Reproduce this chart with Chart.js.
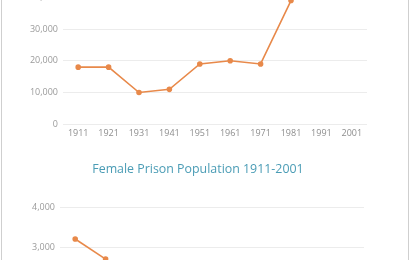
<!DOCTYPE html>
<html>
<head>
<meta charset="utf-8">
<script src="https://cdn.jsdelivr.net/npm/chart.js@4.4.0/dist/chart.umd.min.js"></script>
<style>
  html, body { margin: 0; padding: 0; background: #fff; }
  body { width: 410px; height: 260px; overflow: hidden; position: relative; }
  .frame { position: absolute; left: 1px; top: 0; width: 406px; height: 260px;
           border-left: 1px solid #cfcfcf; border-right: 1px solid #cfcfcf; }
  canvas { position: absolute; left: 0; }
  #male { top: -13px; }
  #female { top: 155px; }
  #femaleTitle { position: absolute; left: 0; width: 396px; top: 161px; text-align: center;
                 font: 12.4px 'Open Sans', sans-serif; line-height: 16px; color: #4a9cb5; }
</style>
</head>
<body>
<div class="frame"></div>
<canvas id="male" width="410" height="160"></canvas>
<canvas id="female" width="410" height="235"></canvas>
<div id="femaleTitle"></div>
<script>
const years = ['1911', '1921', '1931', '1941', '1951', '1961', '1971', '1981', '1991', '2001'];
// top chart is cut off by the crop; 1991/2001 not visible
const maleValues = [18000, 18000, 10000, 11000, 19000, 20000, 19000, 39000, null, null];
// only the first two points of the female series are in view
const femaleValues = [3200, 2700, null, null, null, null, null, null, null, null];
const femaleTitle = 'Female Prison Population 1911-2001';

document.getElementById('femaleTitle').textContent = femaleTitle;

const orange = '#e8894a';
const tickFont = { family: 'Open Sans', size: 9 };

function makeChart(id, values, yMax, pad) {
  return new Chart(document.getElementById(id), {
    type: 'line',
    data: {
      labels: years,
      datasets: [{
        data: values,
        borderColor: orange,
        backgroundColor: orange,
        borderWidth: 1.6,
        pointRadius: 2,
        pointHoverRadius: 2,
        tension: 0
      }]
    },
    options: {
      responsive: false,
      animation: false,
      devicePixelRatio: 1,
      layout: { padding: pad },
      plugins: {
        legend: { display: false },
        tooltip: { enabled: false }
      },
      scales: {
        x: {
          offset: true,
          grid: { display: false, drawTicks: false },
          border: { display: false },
          ticks: { color: '#8d8d8d', font: tickFont, padding: 4, maxRotation: 0, autoSkip: false }
        },
        y: {
          min: 0,
          max: yMax,
          afterFit: s => { s.width = 41; },
          grid: { color: '#ececec', drawTicks: false },
          border: { display: false },
          ticks: {
            stepSize: yMax / 4,
            color: '#9a9a9a',
            font: tickFont,
            padding: 5,
            callback: v => v.toLocaleString('en-US')
          }
        }
      }
    }
  });
}

makeChart('male', maleValues, 40000, { left: 22, right: 43, top: 10, bottom: 4 });
makeChart('female', femaleValues, 4000, { left: 19, right: 46, top: 52, bottom: 4 });
</script>
</body>
</html>
